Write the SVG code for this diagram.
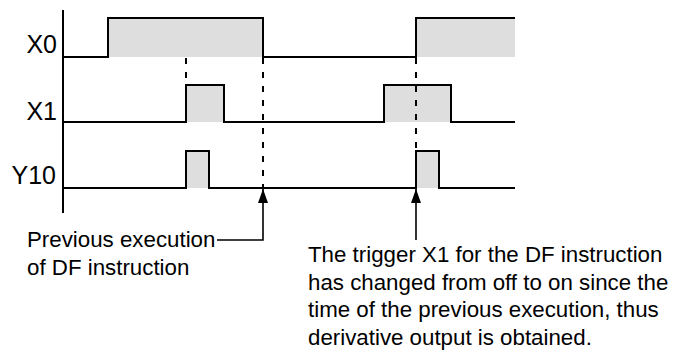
<svg xmlns="http://www.w3.org/2000/svg" width="678" height="355" viewBox="0 0 678 355">
<style>
.sig{fill:none;stroke:#000;stroke-width:2;stroke-linejoin:miter}
.fill{fill:#dedede;stroke:none}
.dash{fill:none;stroke:#000;stroke-width:2;stroke-dasharray:6 8}
.ln{fill:none;stroke:#000;stroke-width:1.6}
.lbl{font-family:"Liberation Sans",Arial,sans-serif;font-size:25px;fill:#000}
.txt{font-family:"Liberation Sans",Arial,sans-serif;font-size:22.3px;fill:#000}
</style>
<defs>
<marker id="arr" viewBox="0 0 14 10" refX="14" refY="5" markerWidth="14" markerHeight="10" markerUnits="userSpaceOnUse" orient="auto">
<path d="M0,0 L14,5 L0,10 Z" fill="#000"/>
</marker>
</defs>
<rect width="678" height="355" fill="#fff"/>
<g id="axis">
<line class="sig" x1="63" y1="10" x2="63" y2="213"/>
</g>
<g id="X0">
<rect class="fill" x="108" y="18" width="155" height="39"/>
<rect class="fill" x="416" y="18" width="99" height="39"/>
<path class="sig" d="M63,57 H108 V18 H263 V57 H416 V18 H515"/>
<text class="lbl" x="57" y="53" text-anchor="end">X0</text>
</g>
<g id="X1">
<rect class="fill" x="186" y="85" width="38" height="37"/>
<rect class="fill" x="384" y="85" width="67" height="37"/>
<path class="sig" d="M63,122 H186 V85 H224 V122 H384 V85 H451 V122 H515"/>
<text class="lbl" x="57" y="120" text-anchor="end">X1</text>
</g>
<g id="Y10">
<rect class="fill" x="186" y="151" width="23" height="37"/>
<rect class="fill" x="416" y="151" width="23" height="37"/>
<path class="sig" d="M63,188 H186 V151 H209 V188 H416 V151 H439 V188 H515"/>
<text class="lbl" x="56" y="184" text-anchor="end">Y10</text>
</g>
<g id="connectors">
<line class="dash" x1="186" y1="58" x2="186" y2="84"/>
<line class="dash" x1="263" y1="58" x2="263" y2="187"/>
<line class="dash" x1="416" y1="58" x2="416" y2="150"/>
<path class="ln" d="M217,240 H263 V189" marker-end="url(#arr)"/>
<path class="ln" d="M416,240 V189" marker-end="url(#arr)"/>
</g>
<g id="note-left">
<text class="txt" x="27" y="247">Previous execution</text>
<text class="txt" x="27" y="275">of DF instruction</text>
</g>
<g id="note-right">
<text class="txt" x="308" y="262">The trigger X1 for the DF instruction</text>
<text class="txt" x="308" y="290">has changed from off to on since the</text>
<text class="txt" x="308" y="317">time of the previous execution, thus</text>
<text class="txt" x="308" y="345">derivative output is obtained.</text>
</g>
</svg>
